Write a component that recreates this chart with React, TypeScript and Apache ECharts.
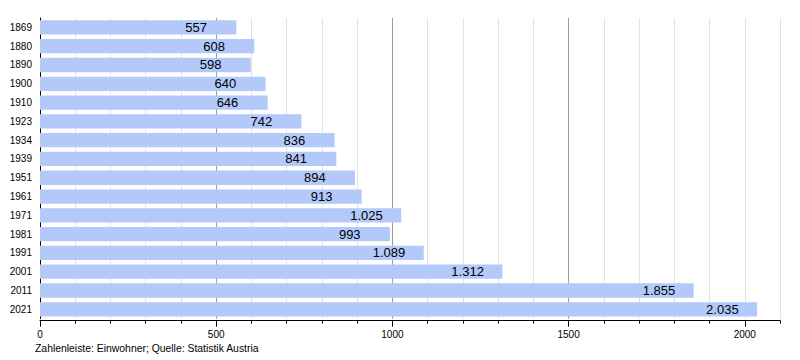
import React, { useEffect, useRef } from "react";
import * as echarts from "echarts";

const years = ["1869", "1880", "1890", "1900", "1910", "1923", "1934", "1939", "1951", "1961", "1971", "1981", "1991", "2001", "2011", "2021"];
const population = [557, 608, 598, 640, 646, 742, 836, 841, 894, 913, 1025, 993, 1089, 1312, 1855, 2035];
const majorTicks = [0, 500, 1000, 1500, 2000];
const footnote = "Zahlenleiste: Einwohner; Quelle: Statistik Austria";

const fmt = (v: number) => {
  const s = String(v);
  return s.length > 3 ? s.slice(0, s.length - 3) + "." + s.slice(s.length - 3) : s;
};

export default function App() {
  const ref = useRef<HTMLDivElement>(null);
  useEffect(() => {
    if (!ref.current) return;
    const chart = echarts.init(ref.current, null, { renderer: "svg" });
    const font = "Liberation Sans, Arial, sans-serif";
    chart.setOption({
      animation: false,
      backgroundColor: "#ffffff",
      textStyle: { fontFamily: font },
      grid: { left: 40, right: 20, top: 18, bottom: 41.3, containLabel: false },
      xAxis: [
        {
          type: "value",
          position: "bottom",
          min: 0,
          max: 2100,
          interval: 100,
          offset: 2,
          axisLine: { show: true, lineStyle: { color: "#000", width: 1 } },
          axisTick: { show: true, length: 3, lineStyle: { color: "#000" } },
          axisLabel: { show: false },
          splitLine: { show: true, lineStyle: { color: "#e2e2e2", width: 1 } },
        },
        {
          type: "value",
          position: "bottom",
          min: 0,
          max: 2100,
          interval: 500,
          offset: 2,
          axisLine: { show: false },
          axisTick: { show: true, length: 6, lineStyle: { color: "#000" }, customValues: majorTicks },
          axisLabel: {
            show: true,
            customValues: majorTicks,
            color: "#000",
            fontSize: 10,
            fontFamily: font,
            margin: 9,
            formatter: (v: number) => String(v),
          },
          splitLine: { show: true, showMinLine: false, showMaxLine: false, lineStyle: { color: "#9c9c9c", width: 1 } },
        },
      ],
      yAxis: {
        type: "category",
        data: years,
        inverse: true,
        axisLine: { show: true, lineStyle: { color: "#000", width: 1 } },
        axisTick: { show: false },
        axisLabel: { color: "#000", fontSize: 10, fontFamily: font, margin: 8 },
        splitLine: { show: false },
      },
      series: [
        {
          type: "bar",
          xAxisIndex: 0,
          data: population,
          barCategoryGap: "24%",
          itemStyle: { color: "#b2c9fa" },
          z: 3,
          label: {
            show: true,
            position: "insideRight",
            distance: 0,
            offset: [-51, 0],
            align: "left",
            color: "#000",
            fontSize: 13,
            fontFamily: font,
            formatter: (p: any) => fmt(p.value),
          },
        },
      ],
      graphic: [
        {
          type: "text",
          left: 35,
          top: 343,
          style: { text: footnote, fill: "#000", fontSize: 10.4, fontFamily: font },
        },
      ],
    });
    return () => chart.dispose();
  }, []);
  return <div ref={ref} style={{ width: 800, height: 360, position: "absolute", left: 0, top: 0 }} />;
}
